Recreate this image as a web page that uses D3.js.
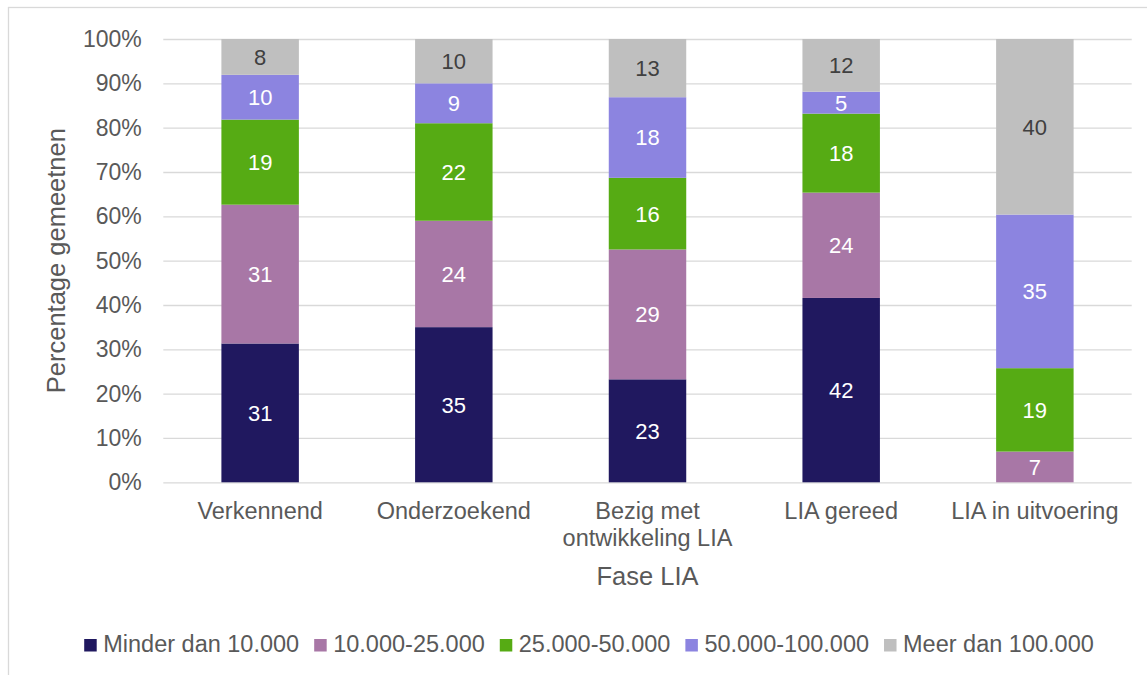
<!DOCTYPE html>
<html>
<head>
<meta charset="utf-8">
<script src="https://cdn.jsdelivr.net/npm/d3@7"></script>
<style>
  body { margin: 0; background: #fff; }
  svg { display: block; font-family: "Liberation Sans", Arial, sans-serif; }
</style>
</head>
<body>
<script>
// data: counts per phase, bars are normalised to 100%
const categories = ["Verkennend", "Onderzoekend", "Bezig met ontwikkeling LIA", "LIA gereed", "LIA in uitvoering"];
const seriesNames = ["Minder dan 10.000", "10.000-25.000", "25.000-50.000", "50.000-100.000", "Meer dan 100.000"];
const minder10k = [31, 35, 23, 42, 0];
const van10kTot25k = [31, 24, 29, 24, 7];
const van25kTot50k = [19, 22, 16, 18, 19];
const van50kTot100k = [10, 9, 18, 5, 35];
const meer100k = [8, 10, 13, 12, 40];
const yTicks = [0, 0.1, 0.2, 0.3, 0.4, 0.5, 0.6, 0.7, 0.8, 0.9, 1];

const colors = ["#20185f", "#a877a6", "#56ab14", "#8c84e0", "#bfbfbf"];
const labelColors = ["#fff", "#fff", "#fff", "#fff", "#404040"];
const textColor = "#595959";

const width = 1147, height = 675;
const margin = {left: 163.3, right: 1147 - 1131.7, top: 39, bottom: 675 - 482.3};

const rows = categories.map((c, i) => ({
  cat: c,
  s0: minder10k[i], s1: van10kTot25k[i], s2: van25kTot50k[i], s3: van50kTot100k[i], s4: meer100k[i]
}));
const keys = ["s0", "s1", "s2", "s3", "s4"];

const stack = d3.stack().keys(keys).offset(d3.stackOffsetExpand);
const series = stack(rows);

const svg = d3.select("body").append("svg")
    .attr("width", width)
    .attr("height", height);

// chart frame (cut off on the right and bottom)
svg.append("rect")
    .attr("x", 8.5).attr("y", 7.5)
    .attr("width", 1300).attr("height", 800)
    .attr("fill", "none")
    .attr("stroke", "#d9d9d9")
    .attr("stroke-width", 1.3);

const x = d3.scaleBand()
    .domain(categories)
    .range([margin.left, width - margin.right])
    .paddingInner(0.6)
    .paddingOuter(0.3);

const y = d3.scaleLinear()
    .domain([0, 1])
    .range([height - margin.bottom, margin.top]);

// gridlines + y tick labels
const yAxis = svg.append("g")
    .attr("transform", `translate(${margin.left},0)`)
    .call(d3.axisLeft(y).tickValues(yTicks).tickFormat(d3.format(".0%"))
      .tickSize(-(width - margin.left - margin.right)).tickPadding(21.6));
yAxis.select(".domain").remove();
yAxis.selectAll("line").attr("stroke", "#d9d9d9").attr("stroke-width", 1.3);
yAxis.selectAll("text")
    .attr("fill", textColor)
    .style("font-size", "23px")
    .attr("dy", "0.33em");

// bars
const layer = svg.append("g").selectAll("g")
  .data(series)
  .enter().append("g")
    .attr("fill", (d, i) => colors[i]);

layer.selectAll("rect")
  .data(d => d)
  .enter().append("rect")
    .attr("x", d => x(d.data.cat))
    .attr("width", x.bandwidth())
    .attr("y", d => y(d[1]))
    .attr("height", d => y(d[0]) - y(d[1]));

// data labels
series.forEach((s, i) => {
  svg.append("g").selectAll("text")
    .data(s.filter(d => d.data[s.key] > 0))
    .enter().append("text")
      .attr("x", d => x(d.data.cat) + x.bandwidth() / 2)
      .attr("y", d => (y(d[0]) + y(d[1])) / 2)
      .attr("dy", "0.36em")
      .attr("text-anchor", "middle")
      .attr("fill", labelColors[i])
      .style("font-size", "22px")
      .text(d => d.data[s.key]);
});

// category labels, wrapped to band width
const catG = svg.append("g");
categories.forEach(c => {
  const t = catG.append("text")
      .attr("x", x(c) + x.bandwidth() / 2)
      .attr("y", 519)
      .attr("text-anchor", "middle")
      .attr("fill", textColor)
      .style("font-size", "23.5px");
  const words = c.split(" ");
  let line = [], lineNo = 0;
  let tspan = t.append("tspan").attr("x", x(c) + x.bandwidth() / 2).attr("dy", 0);
  words.forEach(w => {
    line.push(w);
    tspan.text(line.join(" "));
    if (tspan.node().getComputedTextLength() > x.step() && line.length > 1) {
      line.pop();
      tspan.text(line.join(" "));
      line = [w];
      lineNo++;
      tspan = t.append("tspan").attr("x", x(c) + x.bandwidth() / 2).attr("dy", "27px").text(w);
    }
  });
});

// axis titles
svg.append("text")
    .attr("x", (margin.left + width - margin.right) / 2)
    .attr("y", 585)
    .attr("text-anchor", "middle")
    .attr("fill", textColor)
    .style("font-size", "25.5px")
    .text("Fase LIA");

svg.append("text")
    .attr("transform", `translate(65,${(y(0) + y(1)) / 2}) rotate(-90)`)
    .attr("text-anchor", "middle")
    .attr("fill", textColor)
    .style("font-size", "25.5px")
    .text("Percentage gemeetnen");

// legend
const legend = svg.append("g");
let lx = 0;
seriesNames.forEach((name, i) => {
  legend.append("rect")
      .attr("x", lx).attr("y", 639)
      .attr("width", 12.5).attr("height", 12.5)
      .attr("fill", colors[i]);
  const t = legend.append("text")
      .attr("x", lx + 19)
      .attr("y", 652)
      .attr("fill", textColor)
      .style("font-size", "23.5px")
      .text(name);
  lx += 19 + t.node().getComputedTextLength() + 15;
});
const lw = lx - 15;
legend.attr("transform", `translate(${589 - lw / 2},0)`);
</script>
</body>
</html>
